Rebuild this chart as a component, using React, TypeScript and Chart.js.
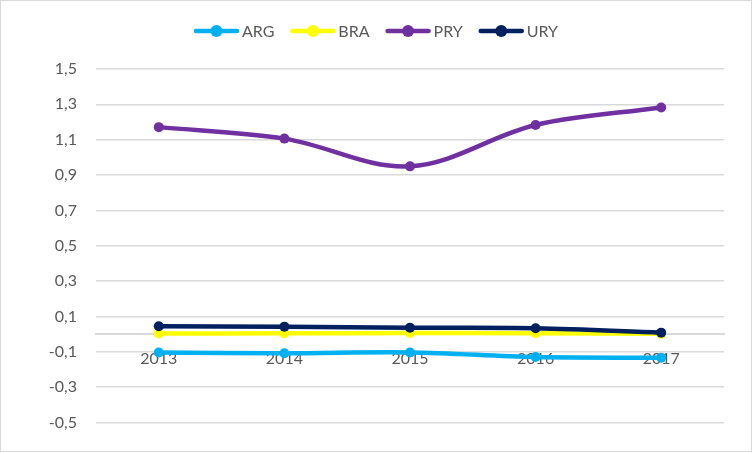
import Chart from "chart.js/auto";
import { useEffect, useRef } from "react";

// chart values
const years = ["2013", "2014", "2015", "2016", "2017"];
const argValues = [-0.104, -0.109, -0.104, -0.13, -0.134];
const braValues = [0.003, 0.004, 0.006, 0.005, 0.001];
const pryValues = [1.171, 1.106, 0.949, 1.183, 1.282];
const uryValues = [0.044, 0.042, 0.036, 0.033, 0.008];
const seriesNames = ["ARG", "BRA", "PRY", "URY"];
const seriesColors = ["#00B0F0", "#FFFF00", "#7030A0", "#002060"];

const FONT = "Lato, 'Open Sans', sans-serif";
const TEXT = "#595959";
const GRID = "#d9d9d9";

// excel-ish legend: line with a dot in the middle
const legendPlugin = {
  id: "excelLegend",
  afterDraw(chart: any) {
    const ctx = chart.ctx;
    const lineLen = 45;
    const gap = 3;
    const itemGap = 16;
    ctx.save();
    ctx.font = `16px ${FONT}`;
    const widths = chart.data.datasets.map(
      (d: any) => lineLen + gap + ctx.measureText(d.label).width
    );
    const total = widths.reduce((a: number, b: number) => a + b, 0) + itemGap * (widths.length - 1);
    let x = chart.width / 2 - total / 2;
    const y = 30;
    chart.data.datasets.forEach((d: any, i: number) => {
      ctx.strokeStyle = d.borderColor;
      ctx.lineWidth = 4.5;
      ctx.lineCap = "round";
      ctx.beginPath();
      ctx.moveTo(x + 2, y);
      ctx.lineTo(x + lineLen - 2, y);
      ctx.stroke();
      ctx.fillStyle = d.borderColor;
      ctx.beginPath();
      ctx.arc(x + lineLen / 2, y, 6, 0, Math.PI * 2);
      ctx.fill();
      ctx.fillStyle = TEXT;
      ctx.textBaseline = "middle";
      ctx.textAlign = "left";
      ctx.fillText(d.label, x + lineLen + gap, y + 1);
      x += widths[i] + itemGap;
    });
    ctx.restore();
  },
};

const App = () => {
  const canvasRef = useRef<HTMLCanvasElement>(null);

  useEffect(() => {
    const ctx = canvasRef.current?.getContext("2d");
    if (!ctx) return;

    const allValues = [argValues, braValues, pryValues, uryValues];
    const drawOrder = [3, 2, 1, 0]; // URY on top, ARG at the bottom

    const myChart = new Chart(ctx, {
      type: "line",
      data: {
        labels: years,
        datasets: seriesNames.map((name, i) => ({
          label: name,
          data: allValues[i],
          borderColor: seriesColors[i],
          backgroundColor: seriesColors[i],
          pointBackgroundColor: seriesColors[i],
          pointBorderWidth: 0,
          pointRadius: 5,
          borderWidth: 4.5,
          tension: 0.35,
          order: drawOrder[i],
        })),
      },
      options: {
        animation: false,
        responsive: false,
        layout: {
          padding: { top: 68, bottom: 25, right: 27, left: 0 },
        },
        plugins: {
          legend: { display: false },
          tooltip: { enabled: false },
        },
        scales: {
          y: {
            min: -0.5,
            max: 1.5,
            afterFit: (scale: any) => {
              scale.width = 95;
            },
            ticks: {
              stepSize: 0.2,
              padding: 19,
              color: TEXT,
              font: { family: FONT, size: 16 },
              callback: (v: any) => Number(v).toFixed(1).replace(".", ","),
            },
            grid: { color: GRID, lineWidth: 1.5, drawTicks: false },
            border: { display: false },
          },
          // zero line, drawn under the series
          x0: {
            type: "category",
            position: { y: 0 },
            offset: true,
            grid: { display: false },
            ticks: { display: false },
            border: { display: true, color: GRID, width: 2 },
            z: 0,
          },
          // year labels, drawn over the series
          x: {
            position: { y: 0 },
            offset: true,
            grid: { display: false, drawTicks: false },
            border: { display: false },
            ticks: {
              padding: 15,
              color: TEXT,
              font: { family: FONT, size: 16 },
              maxRotation: 0,
            },
            z: 1,
          },
        } as any,
      },
      plugins: [legendPlugin],
    });

    return () => {
      myChart.destroy();
    };
  }, []);

  return (
    <div
      style={{
        position: "absolute",
        left: 0,
        top: 0,
        width: 752,
        height: 452,
        boxSizing: "border-box",
        border: "1px solid #d9d9d9",
        background: "#fff",
      }}
    >
      <canvas ref={canvasRef} width={750} height={450} style={{ display: "block" }}></canvas>
    </div>
  );
};

export default App;
